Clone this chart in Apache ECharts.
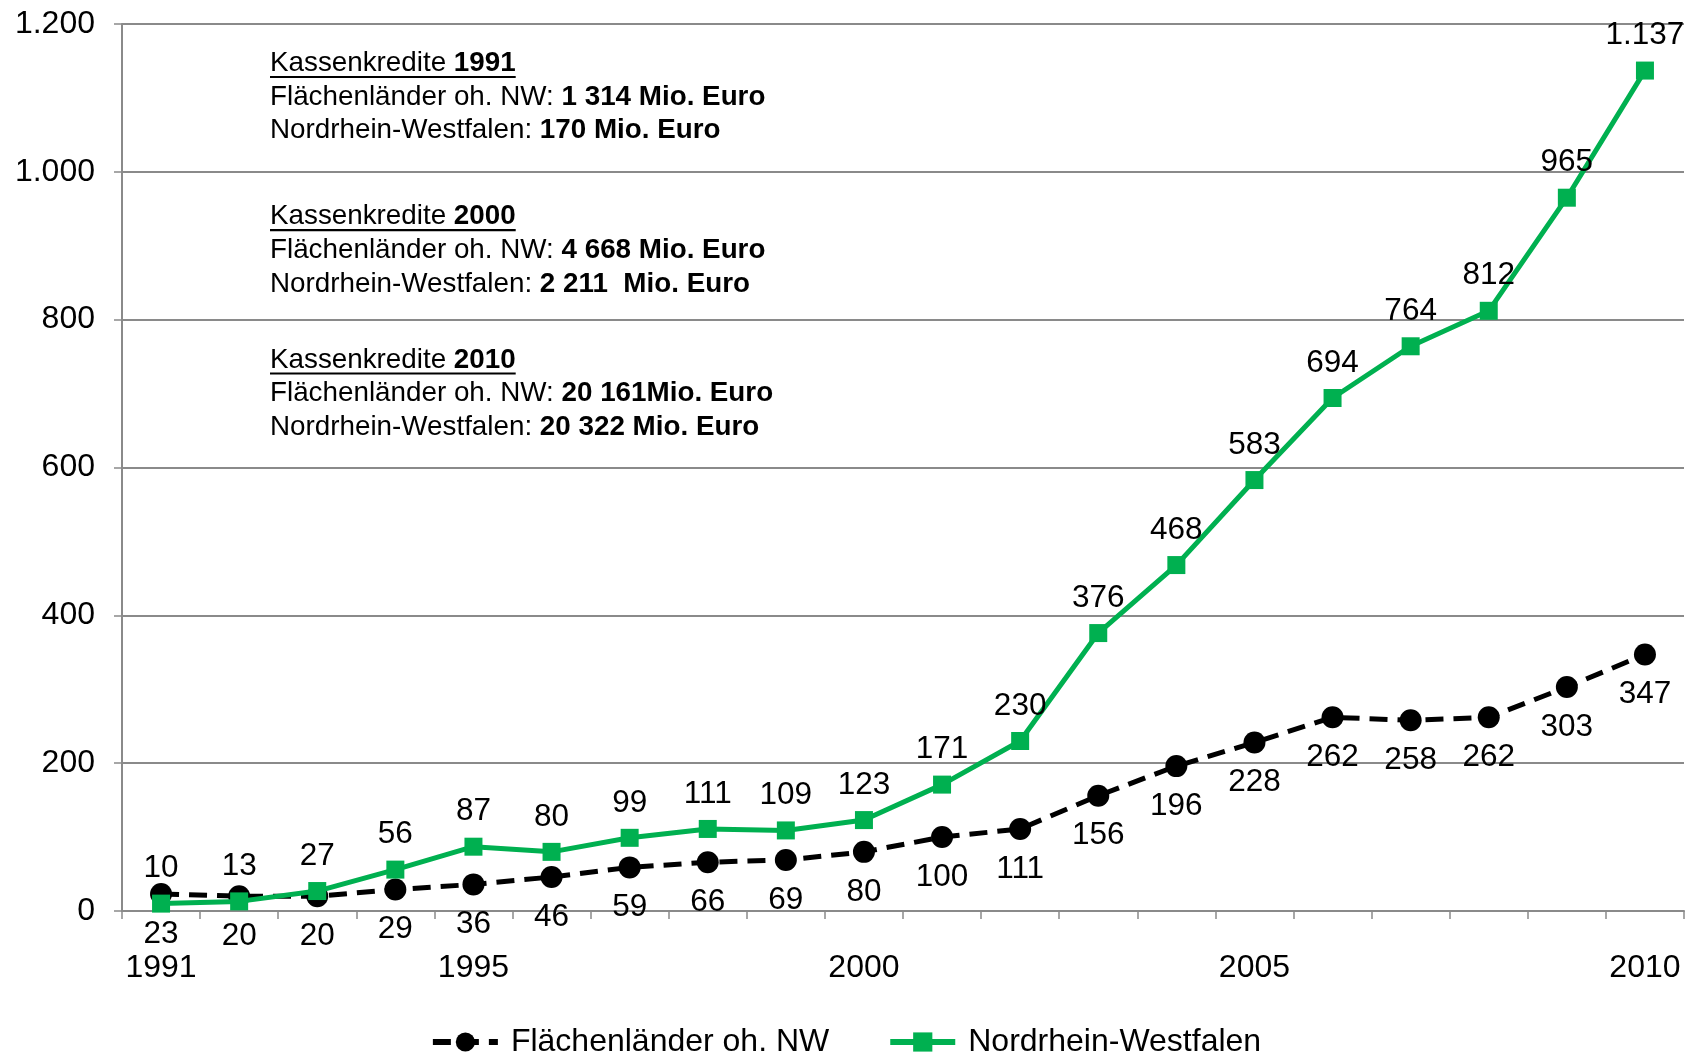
<!DOCTYPE html>
<html>
<head>
<meta charset="utf-8">
<script src="https://cdn.jsdelivr.net/npm/echarts@6/dist/echarts.min.js"></script>
<style>
html,body{margin:0;padding:0;background:#fff;}
#chart{width:1691px;height:1054px;}
</style>
</head>
<body>
<div id="chart"></div>
<script>
// ---- data ----
var years = ['1991','1992','1993','1994','1995','1996','1997','1998','1999','2000',
             '2001','2002','2003','2004','2005','2006','2007','2008','2009','2010'];
var shownYearLabels = ['1991','1995','2000','2005','2010'];
var seriesNames = ['Flächenländer oh. NW', 'Nordrhein-Westfalen'];
var flaechenlaender = [23,20,20,29,36,46,59,66,69,80,100,111,156,196,228,262,258,262,303,347];
var nrw = [10,13,27,56,87,80,99,111,109,123,171,230,376,468,583,694,764,812,965,1137];
var yTicks = [0,200,400,600,800,1000,1200];

// annotation text blocks: [normal part, bold part] per line
var noteBlocks = [
  [['Kassenkredite ', '1991'], ['Flächenländer oh. NW: ', '1 314 Mio. Euro'], ['Nordrhein-Westfalen: ', '170 Mio. Euro']],
  [['Kassenkredite ', '2000'], ['Flächenländer oh. NW: ', '4 668 Mio. Euro'], ['Nordrhein-Westfalen: ', '2 211  Mio. Euro']],
  [['Kassenkredite ', '2010'], ['Flächenländer oh. NW: ', '20 161Mio. Euro'], ['Nordrhein-Westfalen: ', '20 322 Mio. Euro']]
];

function deFmt(v){ return String(v).replace(/\B(?=(\d{3})+(?!\d))/g, '.'); }

var FONT = '"Liberation Sans", Arial, sans-serif';
var GREEN = '#00B050';
var GRID = '#8a8a8a';

var chart = echarts.init(document.getElementById('chart'), null, {renderer:'canvas'});

var mctx = document.createElement('canvas').getContext('2d');
function textW(str, size, bold){
  mctx.font = (bold ? 'bold ' : '') + size + 'px "Liberation Sans", Arial, sans-serif';
  return mctx.measureText(str).width;
}

var noteX = 270, noteSize = 27.8, lineStep = 33.6;
var blockTops = [61.5, 214.6, 358];
var graphics = [];
noteBlocks.forEach(function(block, bi){
  block.forEach(function(line, li){
    var cy = blockTops[bi] + li * lineStep;
    graphics.push({
      type: 'text', left: noteX, top: cy - noteSize/2 + 2, z: 10,
      style: {
        text: '{n|' + line[0] + '}{b|' + line[1] + '}',
        rich: {
          n: {fontSize: noteSize, fontFamily: FONT, fill: '#000', fontWeight: 'normal'},
          b: {fontSize: noteSize, fontFamily: FONT, fill: '#000', fontWeight: 'bold'}
        }
      }
    });
    if (li === 0) {
      var w = textW(line[0], noteSize, false) + textW(line[1], noteSize, true);
      graphics.push({
        type: 'line', z: 10,
        shape: {x1: noteX, y1: cy + 15.5, x2: noteX + w, y2: cy + 15.5},
        style: {stroke: '#000', lineWidth: 2.2}
      });
    }
  });
});

var option = {
  backgroundColor: '#fff',
  animation: false,
  grid: {left: 122, right: 7, top: 24, bottom: 143, containLabel: false},
  legend: {
    top: 1021, left: 'center',
    itemWidth: 65, itemHeight: 24, itemGap: 58,
    lineStyle: {width: 6},
    textStyle: {fontSize: 32, fontFamily: FONT, color: '#000', padding: [0, 0, 0, 8]},
    data: seriesNames
  },
  xAxis: {
    type: 'category',
    data: years,
    boundaryGap: true,
    axisLine: {lineStyle: {color: GRID, width: 2}},
    axisTick: {show: true, interval: 0, length: 8, lineStyle: {color: GRID, width: 1.5}},
    axisLabel: {
      interval: function(idx, val){ return shownYearLabels.indexOf(val) >= 0; },
      margin: 41, fontSize: 32, fontFamily: FONT, color: '#000'
    },
    splitLine: {show: false}
  },
  yAxis: {
    type: 'value',
    min: yTicks[0], max: yTicks[yTicks.length-1], interval: 200,
    axisLine: {show: true, lineStyle: {color: GRID, width: 2}},
    axisTick: {show: true, length: 8, lineStyle: {color: GRID, width: 1.5}},
    axisLabel: {formatter: function(v){ return deFmt(v); }, margin: 27, fontSize: 32, fontFamily: FONT, color: '#000'},
    splitLine: {show: true, lineStyle: {color: GRID, width: 2}}
  },
  series: [
    {
      name: seriesNames[0],
      type: 'line',
      data: flaechenlaender,
      symbol: 'circle', symbolSize: 22,
      itemStyle: {color: '#000'},
      lineStyle: {color: '#000', width: 5, type: [18, 10]},
      label: {show: true, position: 'bottom', distance: 13, fontSize: 31.5, fontFamily: FONT, color: '#000',
              formatter: function(p){ return deFmt(p.value); }},
      z: 3
    },
    {
      name: seriesNames[1],
      type: 'line',
      data: nrw,
      symbol: 'rect', symbolSize: 18,
      itemStyle: {color: GREEN},
      lineStyle: {color: GREEN, width: 5},
      label: {show: true, position: 'top', distance: 10, fontSize: 31.5, fontFamily: FONT, color: '#000',
              formatter: function(p){ return deFmt(p.value); }},
      z: 4
    }
  ],
  graphic: graphics
};
chart.setOption(option);
</script>
</body>
</html>
